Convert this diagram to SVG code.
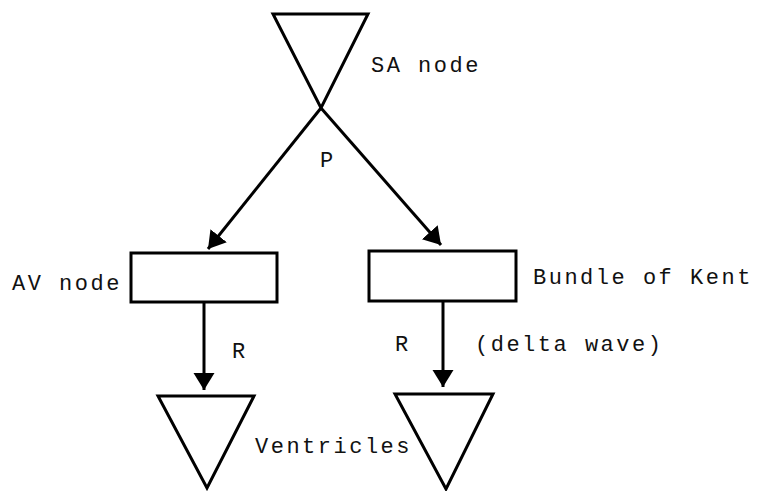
<svg xmlns="http://www.w3.org/2000/svg" width="764" height="491" viewBox="0 0 764 491">
  <defs>
    <marker id="arrow" markerUnits="userSpaceOnUse" markerWidth="20" markerHeight="22" refX="17" refY="10.5" orient="auto">
      <path d="M0,0 L17,10.5 L0,21 z" fill="#000"/>
    </marker>
    <style>
      .shape { fill: #fff; stroke: #000; stroke-width: 3; stroke-linejoin: miter; }
      .edge { stroke: #000; stroke-width: 3; fill: none; marker-end: url(#arrow); }
      .lbl { font-family: "Liberation Mono", "Courier New", monospace; font-size: 22px; letter-spacing: 2.5px; fill: #111; }
    </style>
  </defs>
  <rect width="764" height="491" fill="#fff"/>

  <!-- connectors -->
  <g id="connectors">
    <line class="edge" x1="321" y1="108" x2="208" y2="249"/>
    <line class="edge" x1="321" y1="108" x2="441" y2="245"/>
    <line class="edge" x1="204" y1="302" x2="204" y2="390"/>
    <line class="edge" x1="443" y1="301" x2="443" y2="387"/>
  </g>

  <!-- nodes -->
  <g id="sa-node">
    <polygon class="shape" points="273,14 368,14 321,108"/>
    <text class="lbl" x="371" y="72">SA node</text>
  </g>
  <g id="av-node">
    <rect class="shape" x="131" y="253" width="146" height="49"/>
    <text class="lbl" x="12" y="290">AV node</text>
  </g>
  <g id="bundle-of-kent">
    <rect class="shape" x="369" y="251" width="147" height="50"/>
    <text class="lbl" x="533" y="284">Bundle of Kent</text>
  </g>
  <g id="ventricles">
    <polygon class="shape" points="158,396 254,396 207,488"/>
    <polygon class="shape" points="395,394 493,394 446,489"/>
    <text class="lbl" x="255" y="453">Ventricles</text>
  </g>

  <!-- connector labels -->
  <g id="labels">
    <text class="lbl" x="320" y="167">P</text>
    <text class="lbl" x="232" y="358">R</text>
    <text class="lbl" x="395" y="351">R</text>
    <text class="lbl" x="475" y="351">(delta wave)</text>
  </g>
</svg>
